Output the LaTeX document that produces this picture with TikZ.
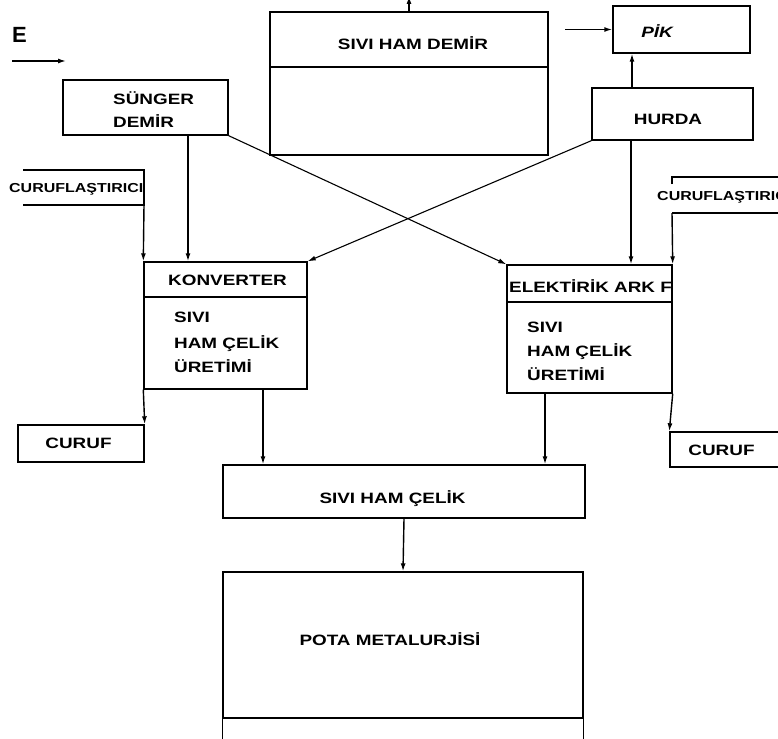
\documentclass[tikz,border=0pt]{standalone}
\usepackage{fontspec}
\newfontfamily\labfont[FakeStretch=1.26]{Liberation Sans}
\newfontfamily\smallfont[FakeStretch=1.23]{Liberation Sans}
\newfontfamily\plainfont{Liberation Sans}
\usetikzlibrary{arrows.meta}

\tikzset{
  box/.style 2 args={draw, line width=1.4pt, inner sep=0pt,
    minimum width=#1pt, minimum height=#2pt},
  conn/.style={line width=1.4pt},
  arr/.style={line width=1.4pt, -{Latex[length=8pt,width=5pt]}},
  txt/.style={font=\labfont\bfseries\fontsize{15}{18}\selectfont,
    inner sep=0pt, anchor=base},
  txtl/.style={txt, anchor=base west},
  small/.style={font=\smallfont\bfseries\fontsize{13}{15}\selectfont,
    inner sep=0pt, anchor=base west},
}

\begin{document}
\begin{tikzpicture}[x=1pt,y=-1pt]
\useasboundingbox (0,0) rectangle (778,738);

% ---- boxes ----
\node[box={278}{55}] (demir)  at (409,39.5) {};
\node[box={278}{88}] (demirb) at (409,111) {};
\node[box={137}{47}] (pik)    at (681.5,29.5) {};
\node[box={161}{52}] (hurda)  at (672.5,114) {};
\node[box={165}{55}] (sunger) at (145.5,107.5) {};
\node[box={163}{35}] (konv)   at (225.5,279.5) {};
\node[box={163}{92}] (konvb)  at (225.5,343) {};
\node[box={165}{37}] (ark)    at (589.5,283.5) {};
\node[box={165}{91}] (arkb)   at (589.5,347.5) {};
\node[box={126}{37}] (curL)   at (81,443.5) {};
\node[box={130}{35}] (curR)   at (735,449.5) {};
\node[box={362}{53}] (celik)  at (404,491.5) {};
\node[box={360}{146}] (pota)  at (403,645) {};
\draw[conn] (pota.south west) -- ++(0,25);
\draw[conn] (pota.south east) -- ++(0,25);

% ---- flux feeds (open boxes) ----
\coordinate (cfL) at (144,205);
\draw[conn] (23,170) -- (144,170) -- (cfL) -- (23,205);
\coordinate (cfR) at (672,213);
\draw[conn] (672,184) -- (672,177) -- (790,177);
\draw[conn] (cfR) -- (790,213);

% ---- labels ----
\node[txtl, font=\plainfont\bfseries\fontsize{22}{24}\selectfont] (etxt) at (12,43) {E};
\node[txt] (tdemir) at (413,50) {SIVI HAM DEMİR};
\node[txt, font=\labfont\bfseries\itshape\fontsize{15}{18}\selectfont] (tpik) at (657,38) {PİK};
\node[txt] (thurda) at (668,125) {HURDA};
\node[txtl] (tsun1) at (113,105) {SÜNGER};
\node[txtl] (tsun2) at (113,128) {DEMİR};
\node[small] (tcfL) at (9,192) {CURUFLAŞTIRICI};
\node[small] (tcfR) at (657,200) {CURUFLAŞTIRICI};
\node[txt] (tkonv) at (227.5,285) {KONVERTER};
\node[txtl] (tk1) at (174,322) {SIVI};
\node[txtl] (tk2) at (174,348) {HAM ÇELİK};
\node[txtl] (tk3) at (174,372) {ÜRETİMİ};
\node[txtl] (tark) at (509,292) {ELEKTİRİK ARK F};
\node[txtl] (ta1) at (527,332) {SIVI};
\node[txtl] (ta2) at (527,356) {HAM ÇELİK};
\node[txtl] (ta3) at (527,380) {ÜRETİMİ};
\node[txt] (tcurL) at (78.5,448) {CURUF};
\node[txt] (tcurR) at (721.5,455) {CURUF};
\node[txt] (tcelik) at (392.5,503) {SIVI HAM ÇELİK};
\node[txt] (tpota) at (390,645) {POTA METALURJİSİ};

% ---- connectors ----
\coordinate (eS) at (12,61);
\coordinate (eE) at (66,61);
\draw[arr] (eS) -- (eE);

\coordinate (outT) at (409,-4);
\draw[arr] (demir.north) -- (outT);
\coordinate (pikin) at (565,29.5);
\draw[arr] (pikin) -- (pik.west);

\draw[arr] ([xshift=-40.5pt]hurda.north) -- ([xshift=-40.5pt]hurda.north |- pik.south);
\draw[arr] ([xshift=42.5pt]sunger.south) -- ([xshift=42.5pt]sunger.south |- konv.north);
\draw[arr] ([xshift=-41.5pt]hurda.south) -- ([xshift=-41.5pt]hurda.south |- ark.north);
\draw[arr, line width=1.1pt] (sunger.south east) -- (ark.north west);
\draw[arr, line width=1.1pt] (hurda.south west) -- (konv.north east);

\draw[arr] (cfL) -- (konv.north west);
\draw[arr] (konvb.south west) -- (curL.north east);
\draw[arr] (cfR) -- (ark.north east);
\draw[arr] (arkb.south east) -- (curR.north west);

\draw[arr] ([xshift=37.5pt]konvb.south) -- ([xshift=37.5pt]konvb.south |- celik.north);
\draw[arr] ([xshift=-44.5pt]arkb.south) -- ([xshift=-44.5pt]arkb.south |- celik.north);
\draw[arr] (celik.south) -- (pota.north);
\end{tikzpicture}
\end{document}
